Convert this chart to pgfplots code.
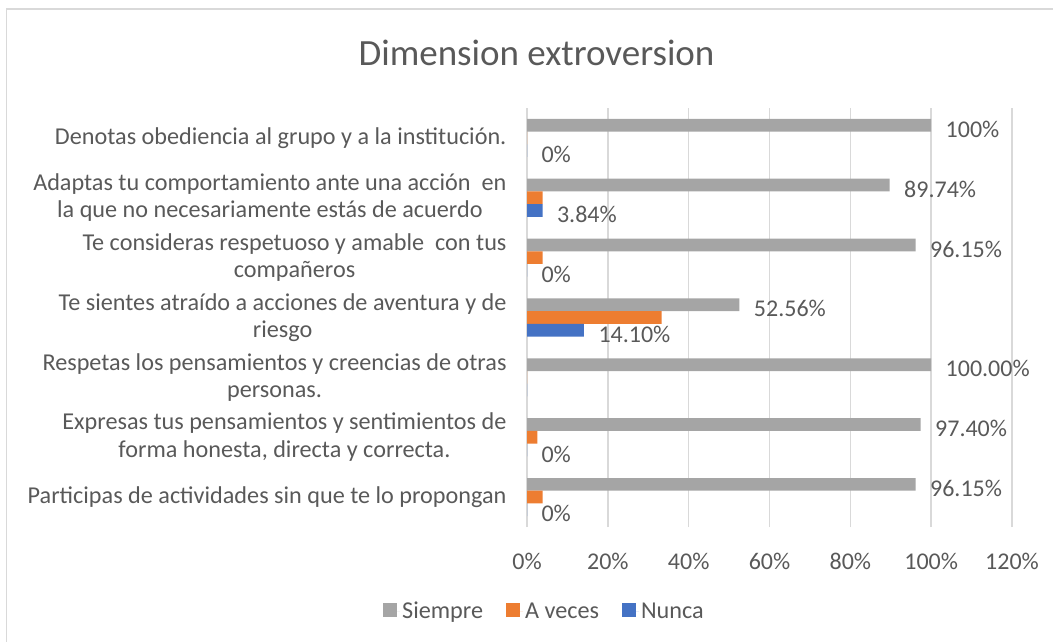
\documentclass[border=0pt]{standalone}
\usepackage{fontspec}
\setmainfont{Carlito}
\usepackage{pgfplots}
\pgfplotsset{compat=1.18}
\definecolor{sgray}{HTML}{A5A5A5}
\definecolor{sorange}{HTML}{ED7D31}
\definecolor{sblue}{HTML}{4472C4}
\definecolor{txt}{HTML}{595959}
\definecolor{gridc}{HTML}{D9D9D9}
\begin{document}
\begin{tikzpicture}
\useasboundingbox (0,0) rectangle (1053bp,642bp);
\draw[gridc, line width=1.5bp] (6.5bp,-2bp) -- (6.5bp,633bp) -- (1060bp,633bp);
\node[anchor=base, text=txt, font=\fontsize{37bp}{42bp}\selectfont] at (536.5bp,576bp) {Dimension extroversion};
\begin{axis}[
  at={(527bp,115bp)}, anchor=south west,
  scale only axis, width=485bp, height=419bp,
  xmin=0, xmax=120, ymin=-0.5, ymax=6.5,
  xtick={0,20,40,60,80,100,120},
  xticklabels={0\%,20\%,40\%,60\%,80\%,100\%,120\%},
  ytick={0,1,2,3,4,5,6},
  yticklabels={
    {Participas de actividades sin que te lo propongan},
    {Expresas tus pensamientos y sentimientos de\\forma honesta, directa y correcta.},
    {Respetas los pensamientos y creencias de otras\\personas.},
    {Te sientes atraído a acciones de aventura y de\\riesgo},
    {Te consideras respetuoso y amable\ \ con tus\\compañeros},
    {Adaptas tu comportamiento ante una acción\ \ en\\la que no necesariamente estás de acuerdo},
    {Denotas obediencia al grupo y a la institución.}},
  yticklabel style={align=center, text=txt, font=\fontsize{24.2bp}{27.5bp}\selectfont, xshift=-17bp},
  xticklabel style={text=txt, font=\fontsize{24bp}{27bp}\selectfont, yshift=-23bp},
  xmajorgrids, ymajorgrids=false, grid style={draw=gridc, line width=1.5bp},
  axis line style={draw=none}, major tick length=0pt, tick style={draw=none},
  xbar, bar width=12.7bp,
  legend columns=3,
  legend style={draw=none, fill=none, at={(axis description cs:0.036,-0.2005)}, anchor=center,
    font=\fontsize{24.2bp}{27bp}\selectfont, text=txt,
    /tikz/every even column/.append style={column sep=21bp}},
  legend image code/.code={\path (0bp,0bp) -- (17bp,0bp);\fill[#1] (0bp,-6bp) rectangle (14bp,8bp);},
  nodes near coords style={anchor=west, xshift=11bp, yshift=-4bp, text=txt, font=\fontsize{24bp}{27bp}\selectfont},
]
\addplot[fill=sgray, draw=none, bar shift=12.7bp, point meta=explicit symbolic, nodes near coords]
  coordinates {(100,6)[100\%] (89.74,5)[89.74\%] (96.15,4)[96.15\%] (52.56,3)[52.56\%] (100,2)[100.00\%] (97.40,1)[97.40\%] (96.15,0)[96.15\%]};
\addplot[fill=sorange, draw=none, bar shift=0bp]
  coordinates {(0,6) (3.84,5) (3.84,4) (33.33,3) (0,2) (2.56,1) (3.84,0)};
\addplot[fill=sblue, draw=none, bar shift=-12.7bp, point meta=explicit symbolic, nodes near coords]
  coordinates {(0,6)[0\%] (3.84,5)[3.84\%] (0,4)[0\%] (14.10,3)[14.10\%] (0,2)[\relax] (0,1)[0\%] (0,0)[0\%]};
\legend{Siempre,A veces,Nunca}
\end{axis}
\end{tikzpicture}
\end{document}
